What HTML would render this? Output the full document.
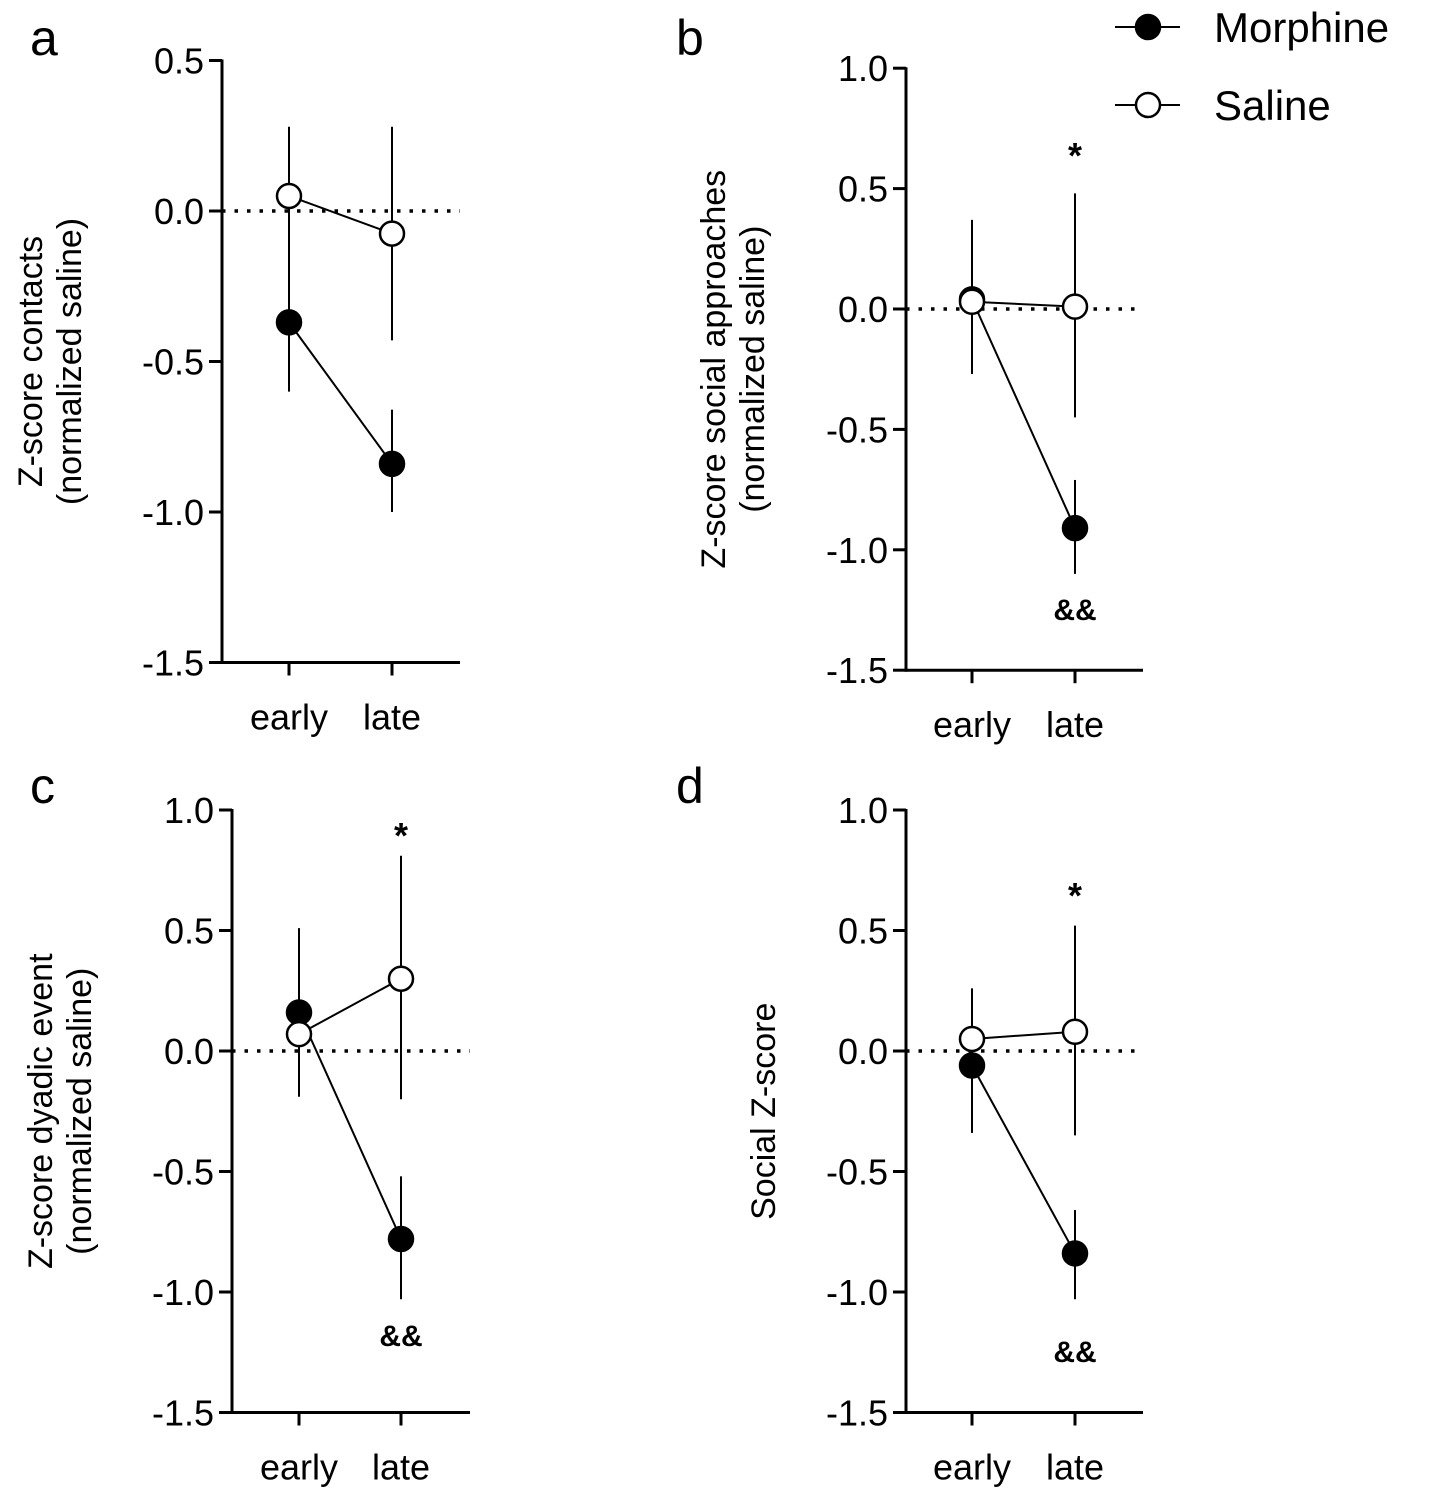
<!DOCTYPE html>
<html><head><meta charset="utf-8">
<style>
html,body{margin:0;padding:0;background:#fff;}
svg text{font-family:"Liberation Sans",sans-serif;fill:#000;}
</style></head>
<body>
<svg id="fig" width="1429" height="1495" viewBox="0 0 1429 1495" xmlns="http://www.w3.org/2000/svg"></svg>
<script>
const categories = ["early","late"];
const yTicks = [1.0,0.5,0.0,-0.5,-1.0,-1.5];
const yTicksA = [0.5,0.0,-0.5,-1.0,-1.5];
// panel a
const aMorph = [-0.37,-0.84], aMorphLo = [-0.60,-1.00], aMorphHi = [-0.15,-0.66];
const aSal = [0.05,-0.075], aSalLo = [-0.20,-0.43], aSalHi = [0.28,0.28];
// panel b
const bMorph = [0.04,-0.91], bMorphLo = [-0.20,-1.10], bMorphHi = [0.30,-0.71];
const bSal = [0.03,0.01], bSalLo = [-0.27,-0.45], bSalHi = [0.37,0.48];
// panel c
const cMorph = [0.16,-0.78], cMorphLo = [-0.15,-1.03], cMorphHi = [0.30,-0.52];
const cSal = [0.07,0.30], cSalLo = [-0.19,-0.20], cSalHi = [0.51,0.81];
// panel d
const dMorph = [-0.06,-0.84], dMorphLo = [-0.34,-1.03], dMorphHi = [0.10,-0.66];
const dSal = [0.05,0.08], dSalLo = [-0.20,-0.35], dSalHi = [0.26,0.52];

const NS="http://www.w3.org/2000/svg";
const svg=document.getElementById('fig');
function mk(tag,attrs,parent){const e=document.createElementNS(NS,tag);for(const k in attrs)e.setAttribute(k,attrs[k]);(parent||svg).appendChild(e);return e;}

function panel(p){
  const g=mk('g',{});
  
  
  const y=v=>p.y0-(v)*p.unit;
  const x=i=>p.xs[i];
  const bottom=y(-1.5);
  let e=mk('line',{x1:p.ax,y1:y(p.ticks[0])-1,x2:p.ax,y2:bottom+1.5,stroke:'#000','stroke-width':3},g);
  
  e=mk('line',{x1:p.ax,y1:bottom,x2:p.ax+p.w,y2:bottom,stroke:'#000','stroke-width':3},g);
  
  p.ticks.forEach(t=>{
    mk('line',{x1:p.ax-13,y1:y(t),x2:p.ax,y2:y(t),stroke:'#000','stroke-width':3},g);
    const tx=mk('text',{x:p.ax-18,y:y(t)+13,'text-anchor':'end','font-size':36},g);
    tx.textContent=t.toFixed(1);
    
    
  });
  categories.forEach((c,i)=>{
    mk('line',{x1:x(i),y1:bottom,x2:x(i),y2:bottom+13,stroke:'#000','stroke-width':3},g);
    const tx=mk('text',{x:x(i),y:bottom+67,'text-anchor':'middle','font-size':36},g);
    tx.textContent=c;
    
    
  });
  e=mk('line',{x1:p.ax,y1:y(0),x2:p.ax+p.w,y2:y(0),stroke:'#000','stroke-width':3.5,'stroke-dasharray':'3.5 9'},g);
  
  const series=[{v:p.morph,lo:p.mlo,hi:p.mhi,fill:'#000',n:'morphine'},{v:p.sal,lo:p.slo,hi:p.shi,fill:'#fff',n:'saline'}];
  series.forEach(s=>{
    categories.forEach((c,i)=>{
      const l=mk('line',{x1:x(i),y1:y(s.hi[i]),x2:x(i),y2:y(s.lo[i]),stroke:'#000','stroke-width':2},g);
      
      
    });
    const ln=mk('line',{x1:x(0),y1:y(s.v[0]),x2:x(1),y2:y(s.v[1]),stroke:'#000','stroke-width':2},g);
    
    
  });
  series.forEach(s=>{
    categories.forEach((c,i)=>{
      const pt=mk('circle',{cx:x(i),cy:y(s.v[i]),r:12,fill:s.fill,stroke:'#000','stroke-width':2.5},g);
      
      
    });
  });
  const t=mk('text',{transform:`translate(${p.tx},${(y(p.ticks[0])+bottom)/2}) rotate(-90)`,'text-anchor':'middle','font-size':34},g);
  
  p.title.forEach((line,k)=>{const ts=mk('tspan',{x:0,dy:k?39:0},t);ts.textContent=line;});
  const L=mk('text',{x:p.lx,y:p.ly,'font-size':50},g);
  L.textContent=p.id;
  if(p.star){const s=mk('text',{x:x(1),y:p.star,'text-anchor':'middle','font-size':36,'font-weight':'bold'},g);s.textContent='*';
    }
  if(p.amp){const s=mk('text',{x:x(1),y:p.amp,'text-anchor':'middle','font-size':30,'font-weight':'bold'},g);s.textContent='&&';
    }
}
panel({id:'a',ax:222,w:238,y0:211,unit:301,xs:[289,392],ticks:yTicksA,morph:aMorph,mlo:aMorphLo,mhi:aMorphHi,sal:aSal,slo:aSalLo,shi:aSalHi,title:['Z-score contacts','(normalized saline)'],tx:42,lx:30,ly:55});
panel({id:'b',ax:906,w:237,y0:309,unit:240.8,xs:[972,1075],ticks:yTicks,morph:bMorph,mlo:bMorphLo,mhi:bMorphHi,sal:bSal,slo:bSalLo,shi:bSalHi,title:['Z-score social approaches','(normalized saline)'],tx:725,lx:676,ly:55,star:168,amp:620});
panel({id:'c',ax:232,w:238,y0:1051,unit:241,xs:[299,401],ticks:yTicks,morph:cMorph,mlo:cMorphLo,mhi:cMorphHi,sal:cSal,slo:cSalLo,shi:cSalHi,title:['Z-score dyadic event','(normalized saline)'],tx:52,lx:30,ly:803,star:848,amp:1346});
panel({id:'d',ax:906,w:237,y0:1051,unit:241,xs:[972,1075],ticks:yTicks,morph:dMorph,mlo:dMorphLo,mhi:dMorphHi,sal:dSal,slo:dSalLo,shi:dSalHi,title:['Social Z-score'],tx:775,lx:676,ly:803,star:908,amp:1362});
const lg=mk('g',{});


[['Morphine','#000',27],['Saline','#fff',105]].forEach(([n,f,yy])=>{
  const g=mk('g',{},lg);
  
  
  mk('line',{x1:1115,y1:yy,x2:1180,y2:yy,stroke:'#000','stroke-width':2},g);
  mk('circle',{cx:1148,cy:yy,r:12,fill:f,stroke:'#000','stroke-width':2.5},g);
  const t=mk('text',{x:1214,y:yy+15,'font-size':42},g);t.textContent=n;
});
</script>
</body></html>
